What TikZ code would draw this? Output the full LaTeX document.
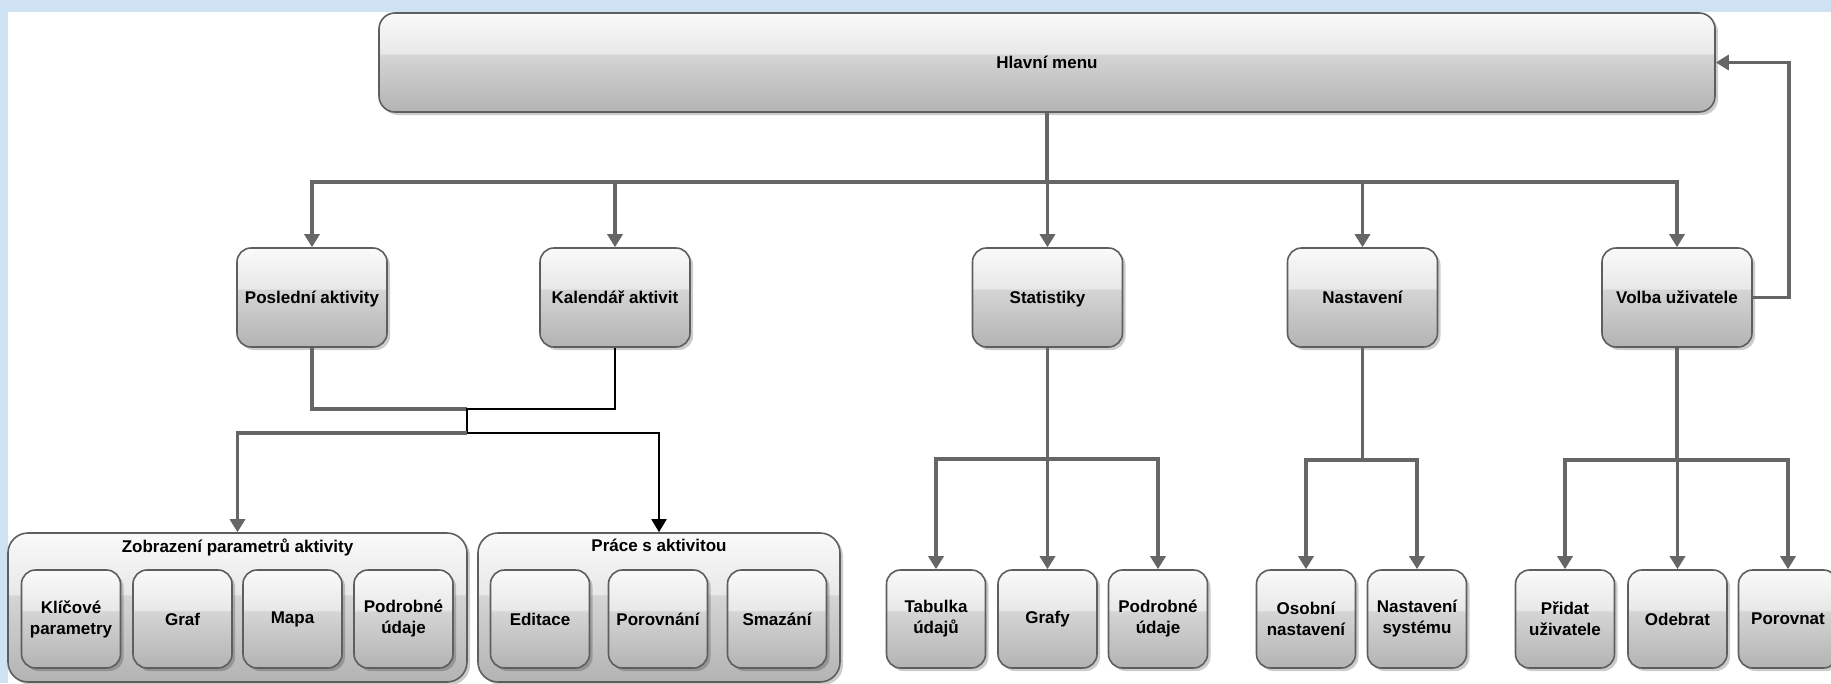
\documentclass[tikz,border=0pt]{standalone}
\usepackage{fontspec}
\setmainfont{Liberation Sans}
\usetikzlibrary{arrows.meta, shadows}

\definecolor{boxtop}{HTML}{FAFAFA}
\definecolor{boxhi}{HTML}{E8E8E8}
\definecolor{boxmid}{HTML}{D5D5D5}
\definecolor{boxbot}{HTML}{B3B3B3}
\pgfdeclareverticalshading{glossy}{100bp}{color(0bp)=(boxbot); color(25bp)=(boxbot); color(54bp)=(boxmid); color(54.5bp)=(boxhi); color(75bp)=(boxtop); color(100bp)=(boxtop)}

\begin{document}
\begin{tikzpicture}[x=1pt,y=-1pt,
    box/.style={draw=boxline,line width=1.6pt,rounded corners=14pt,shading=glossy,
      drop shadow={shadow xshift=3pt,shadow yshift=-3pt,opacity=.2,fill=black},
      font=\bfseries\fontsize{17}{21}\selectfont,align=center,inner sep=0pt,
      minimum width=150pt,minimum height=99pt},
    level/.style={box,text height=16pt,text depth=3.5pt},
    item/.style={box,minimum width=99pt,minimum height=98pt},
    group/.style={box,minimum height=149pt,rounded corners=20pt},
    title/.style={anchor=north,yshift=-3pt,font=\bfseries\fontsize{17}{21}\selectfont},
    link/.style={draw=wire,line width=3.5pt},
    fine/.style={draw=black,line width=1.8pt},
    tip/.style={-{Triangle[width=15pt,length=13pt]}}]
  \colorlet{boxline}{black!63}
  \colorlet{wire}{black!60}
  \definecolor{frame}{HTML}{CFE2F3}

  \useasboundingbox (0,0) rectangle (1831,683);
  \fill[frame] (0,0) rectangle (1831,683);
  \fill[white] (8,12) rectangle (1831,683);

  \node[level,minimum width=1336pt,rounded corners=16pt] (menu) at (1047,62.5) {Hlavní menu};

  \node[level] (recent)   at (312,297.5)    {Poslední aktivity};
  \node[level] (calendar) at (615,297.5)    {Kalendář aktivit};
  \node[level] (stats)    at (1047.5,297.5) {Statistiky};
  \node[level] (settings) at (1362.5,297.5) {Nastavení};
  \node[level] (user)     at (1677,297.5)   {Volba uživatele};

  \node[group,minimum width=459pt,label={[title]north:Zobrazení parametrů aktivity}]
    (view) at (237.5,607.5) {};
  \node[group,minimum width=362pt,label={[title]north:Práce s aktivitou}]
    (work) at (659,607.5) {};

  \foreach \name/\x/\txt in {keys/71/{Klíčové\\parametry}, graph/182.5/Graf,
      map/292.5/Mapa, more/403.5/{Podrobné\\údaje}, edit/540/Editace,
      diff/658/Porovnání, erase/777/Smazání, tables/936/{Tabulka\\údajů},
      charts/1047.5/Grafy, details/1158/{Podrobné\\údaje},
      personal/1306/{Osobní\\nastavení}, system/1417/{Nastavení\\systému},
      adduser/1565/{Přidat\\uživatele}, remove/1677.5/Odebrat, compare/1788/Porovnat}
    \node[item] (\name) at (\x,619) {\txt};

  \foreach \child in {recent,calendar,stats,settings,user}
    \draw[link,tip] (menu.south) -- ++(0,69) -| (\child.north);

  \coordinate (merge) at (467,409);
  \coordinate (split) at (467,433);
  \draw[link] (recent.south) |- (merge);
  \draw[fine] (calendar.south) |- (merge) -- (split);
  \draw[link,tip] (split) -| (view.north);
  \draw[fine,tip] (split) -| (work.north);

  \foreach \child in {tables,charts,details}
    \draw[link,tip] (stats.south) -- ++(0,111) -| (\child.north);
  \foreach \child in {personal,system}
    \draw[link,tip] (settings.south) -- ++(0,112) -| (\child.north);
  \foreach \child in {adduser,remove,compare}
    \draw[link,tip] (user.south) -- ++(0,112) -| (\child.north);

  \draw[link,tip] (user.east) -- ++(36,0) |- (menu.east);
\end{tikzpicture}
\end{document}
